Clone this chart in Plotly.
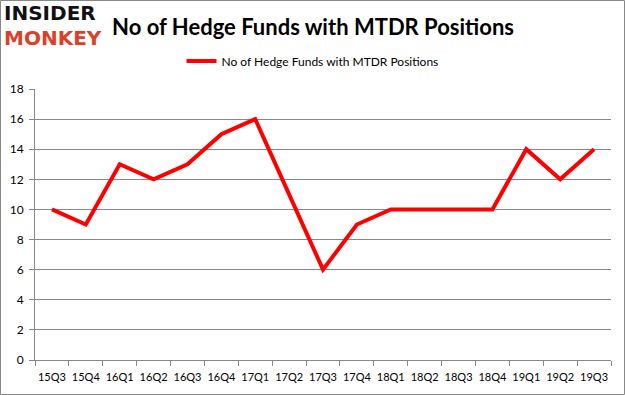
import plotly.graph_objects as go

quarters = ["15Q3", "15Q4", "16Q1", "16Q2", "16Q3", "16Q4", "17Q1", "17Q2", "17Q3",
            "17Q4", "18Q1", "18Q2", "18Q3", "18Q4", "19Q1", "19Q2", "19Q3"]
hedge_funds = [10, 9, 13, 12, 13, 15, 16, 11, 6, 9, 10, 10, 10, 10, 14, 12, 14]
y_ticks = [0, 2, 4, 6, 8, 10, 12, 14, 16, 18]
series_name = "No of Hedge Funds with MTDR Positions"

W, H = 625, 395
L, R, T, B = 35, 14, 89, 35
pw, ph = W - L - R, H - T - B

fig = go.Figure()
fig.add_trace(go.Scatter(
    x=quarters, y=hedge_funds, mode="lines", name=series_name,
    line=dict(color="#ff0000", width=4),
))

font_family = "Lato, 'Open Sans', sans-serif"
fig.update_layout(
    width=W, height=H,
    margin=dict(l=L, r=R, t=T, b=B, autoexpand=False),
    paper_bgcolor="white", plot_bgcolor="white",
    showlegend=True,
    legend=dict(orientation="h", x=0.5, xref="container", xanchor="center",
                y=1 - 61 / H, yref="container", yanchor="middle",
                font=dict(family=font_family, size=12, color="#000000"),
                itemwidth=30, bgcolor="rgba(0,0,0,0)"),
    title=dict(text="<b>No of Hedge Funds with MTDR Positions</b>", x=313 / W, xanchor="center",
               y=1 - 27 / H, yanchor="middle",
               font=dict(family=font_family, size=22, color="#000000")),
    xaxis=dict(type="category", tickson="boundaries", ticks="outside", ticklen=5,
               tickcolor="#888888", showline=True, linecolor="#888888", linewidth=1,
               showgrid=False, tickangle=0, automargin=False, ticklabelstandoff=7,
               tickfont=dict(family=font_family, size=11, color="#000000"),
               range=[-0.5, len(quarters) - 0.5]),
    yaxis=dict(range=[0, 18], tickvals=y_ticks, ticks="outside", ticklen=5,
               tickcolor="#888888", showline=True, linecolor="#888888", linewidth=1,
               showgrid=True, gridcolor="#888888", gridwidth=1, zeroline=False,
               automargin=False, ticklabelstandoff=3,
               tickfont=dict(family=font_family, size=12, color="#000000")),
)

# outer frame
fig.add_shape(type="rect", xref="paper", yref="paper",
              x0=-(L - 0.5) / pw, x1=1 + (R - 0.5) / pw,
              y0=-(B - 0.5) / ph, y1=1 + (T - 0.5) / ph,
              line=dict(color="#888888", width=1), fillcolor="rgba(0,0,0,0)", layer="below")

# logo
fig.add_annotation(text="<b>INSIDER</b>", xref="paper", yref="paper",
                   x=-(L - 3) / pw, y=1 + (T - 13) / ph, xanchor="left", yanchor="middle",
                   showarrow=False, borderpad=0,
                   font=dict(family="DejaVu Sans", size=20, color="#111111"))
fig.add_annotation(text="<b>MONKEY</b>", xref="paper", yref="paper",
                   x=-(L - 3) / pw, y=1 + (T - 38) / ph, xanchor="left", yanchor="middle",
                   showarrow=False, borderpad=0,
                   font=dict(family="DejaVu Sans", size=20, color="#d9412b"))

fig.write_html("out.html", config={"displayModeBar": False},
               post_script="document.body.style.margin='0';document.body.style.overflow='hidden';")
